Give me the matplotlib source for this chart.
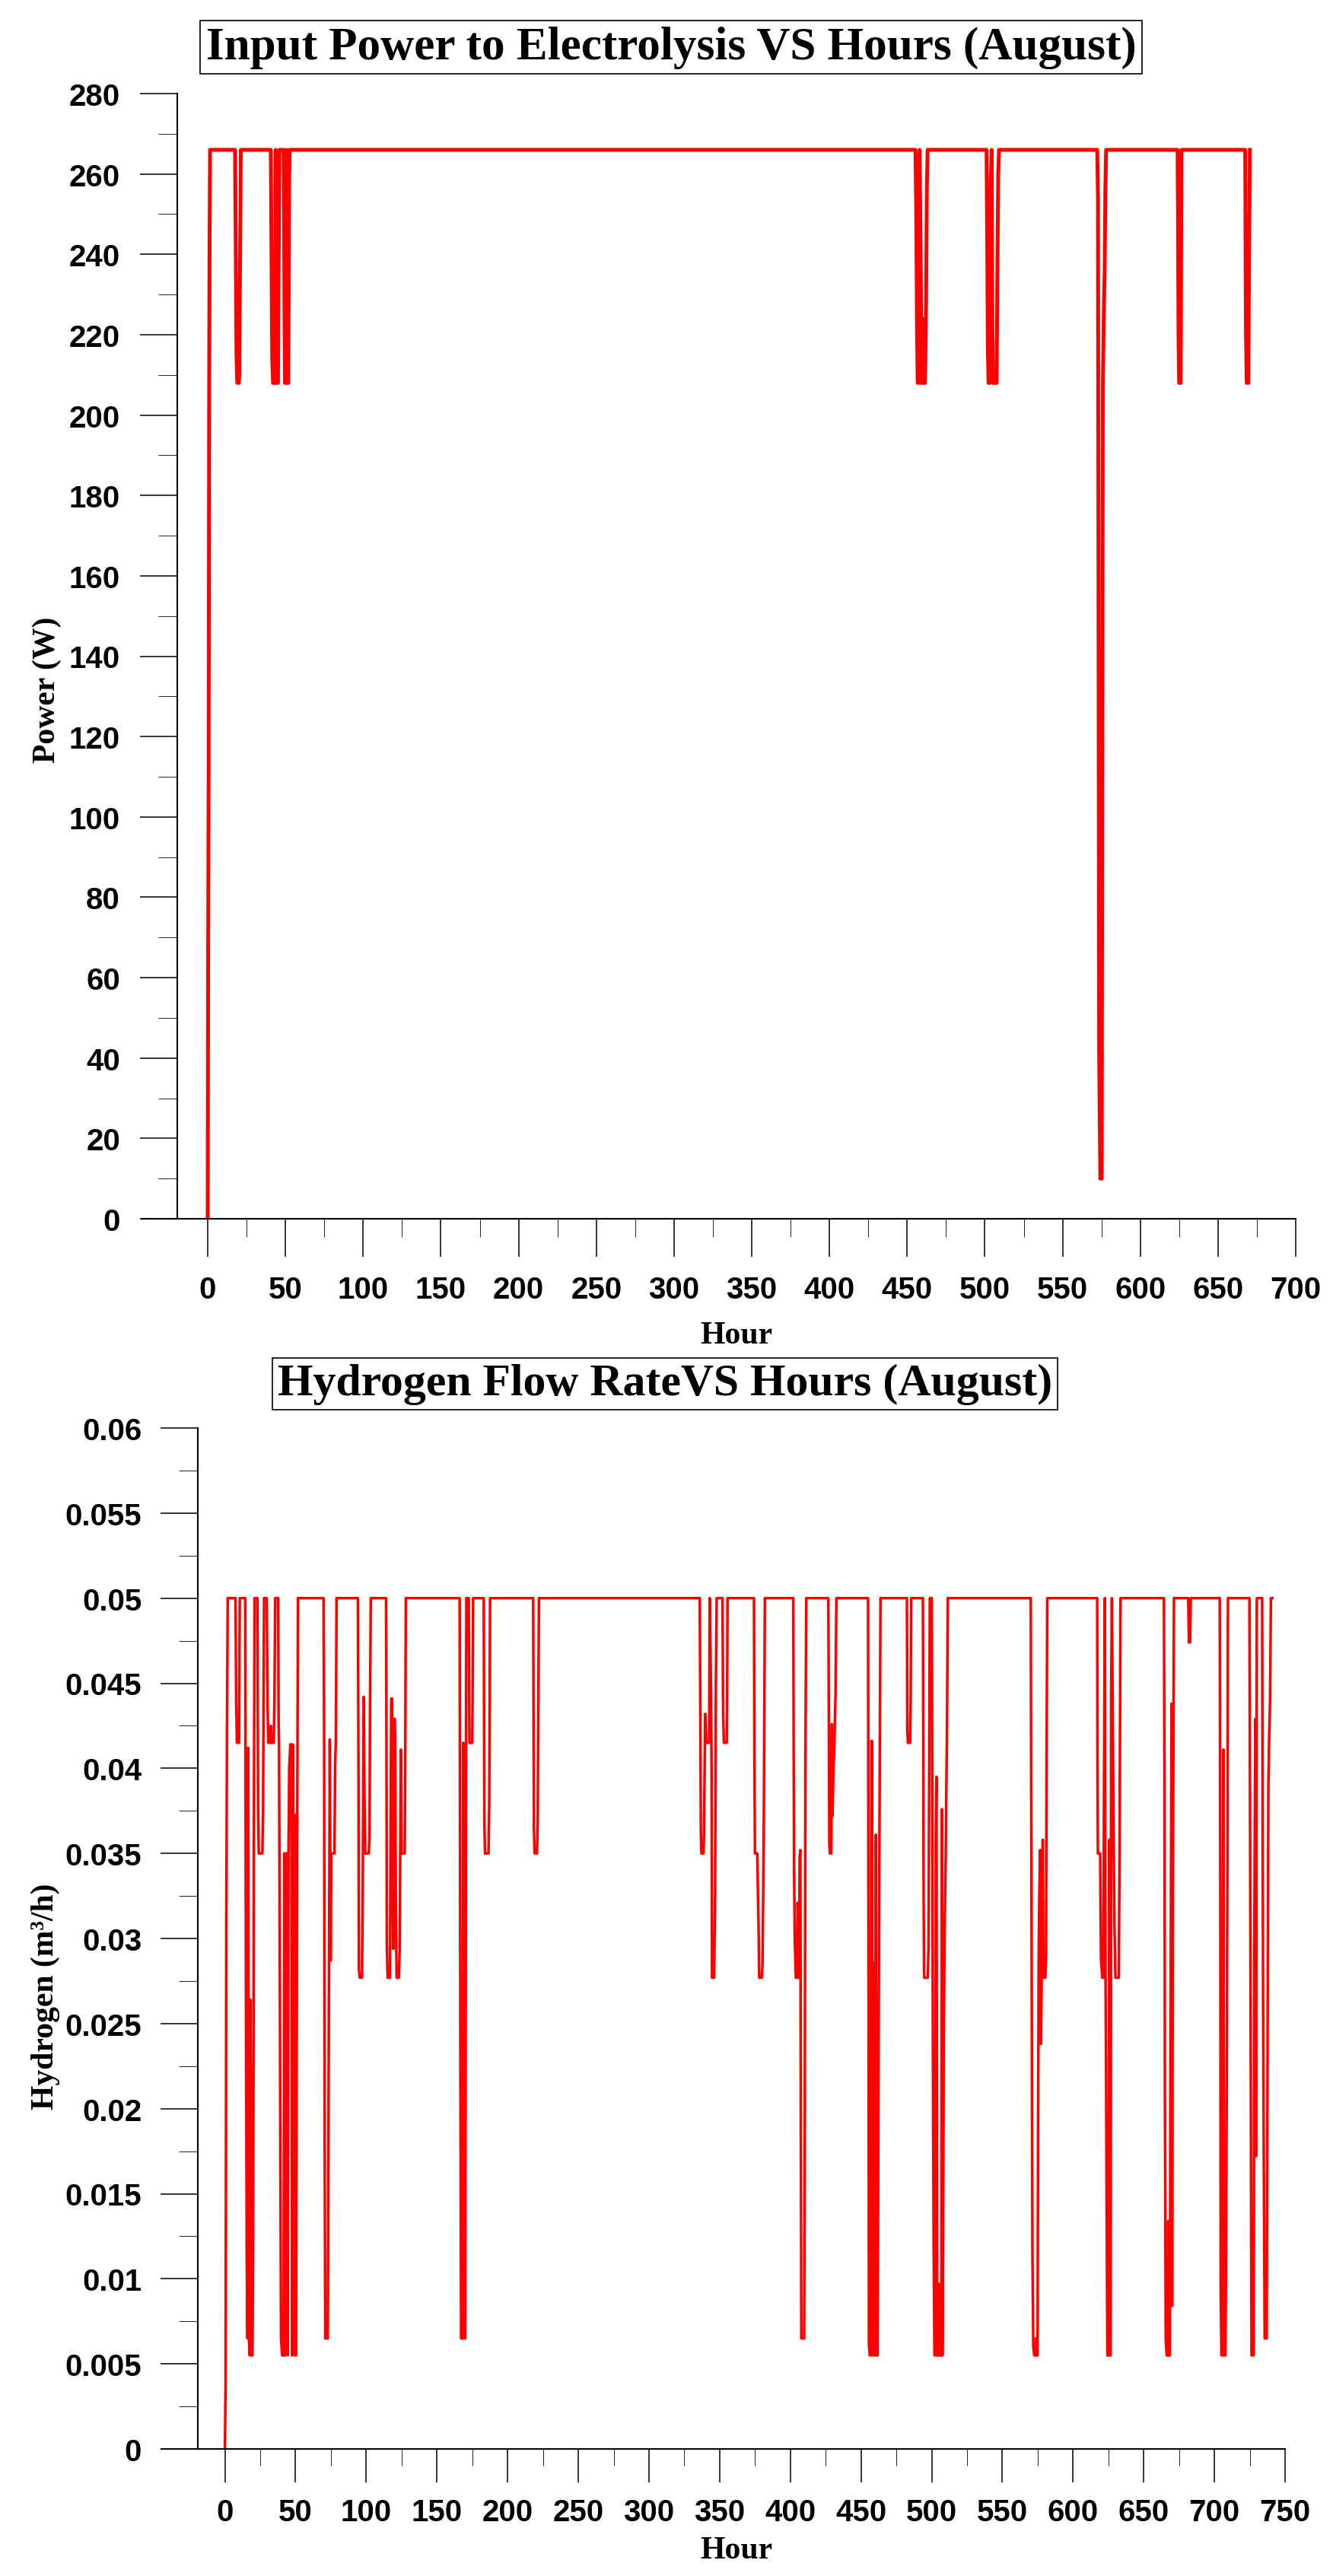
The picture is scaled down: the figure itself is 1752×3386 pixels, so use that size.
import matplotlib
matplotlib.use('Agg')
import matplotlib.pyplot as plt
from matplotlib.ticker import MultipleLocator, FixedLocator, FuncFormatter

# 输入功率数据（小时, W）
power_hours = [0, 0.3, 0.6, 0.9, 1.2, 1.5,
               17.6, 18, 18.5, 19, 20, 20.3, 20.8, 21.3,
               40.6, 41, 41.5, 42, 43, 43.3, 43.7, 44.1, 45.2, 45.6, 46.1,
               48.8, 49.1, 49.4, 49.7, 50.3, 50.6, 51, 51.8, 52.1, 52.4, 52.7,
               455.4, 455.9, 456.4, 456.8, 457.6, 458, 458.4, 458.8, 459.2, 459.8, 460.3, 461.5, 462.2, 462.7, 463.2,
               501.1, 501.5, 501.9, 502.4, 503.2, 503.6, 504.4, 504.8, 505.3, 507.6, 508, 508.6, 509.1,
               572.3, 572.8, 573.5, 574.3, 575.2, 575.9, 576.6, 577.1, 577.5, 578,
               624, 624.3, 624.6, 625, 626, 626.5,
               667.5, 668, 668.5, 669.5, 670, 670.5]
power_values = [0, 70, 113, 202, 243, 266,
                266, 244, 215, 208, 208, 210, 238, 266,
                266, 242, 214, 208, 208, 220, 266, 208, 208, 236, 266,
                266, 251, 223, 208, 208, 266, 208, 208, 231, 259, 266,
                266, 248, 220, 208, 208, 266, 252, 234, 208, 224, 208, 208, 229, 257, 266,
                266, 245, 217, 208, 208, 255, 266, 222, 208, 208, 232, 260, 266,
                266, 254, 43.6, 10, 10, 207, 227, 236, 255, 266,
                266, 247, 220, 208, 208, 266,
                266, 220, 208, 208, 240, 266]

# 氢气流量数据（小时, m3/h）
h2_hours = [0, 0.5, 1.0, 1.5, 2,
            7.5, 8, 8.5, 10, 10.5,
            14.4, 14.7, 15, 15.5, 16, 16.5, 17, 17.5, 18, 18.5, 19, 19.5, 20, 20.5, 21,
            23, 23.5, 24, 26.5, 27, 27.7,
            29.6, 30.2, 30.7, 32, 32.5, 33, 34.5, 35, 35.6,
            37.7, 38, 38.3, 39, 39.7, 40.5, 41.5, 42, 42.5, 43, 43.5, 44, 44.5, 45, 45.5,
            46.3, 47, 47.5, 48, 48.3, 48.7, 49.1, 49.5, 50.3, 50.8, 51.2, 51.7,
            69.8, 70.2, 70.6, 71, 72.8, 73.2, 73.7, 74.2, 74.8, 75.3, 77.5, 78, 78.5, 79,
            94.1, 94.5, 94.8, 95.4, 97, 97.5, 98.2, 98.7, 99.3, 101.8, 102.3, 102.7, 103.2,
            114, 114.3, 114.6, 115.1, 116.8, 117.2, 117.7, 118.2, 118.6, 119.1, 119.5, 120.2,
            120.5, 120.9, 121.5, 123.1, 123.6, 124.5, 125, 127.2, 127.6, 128,
            166.1, 166.6, 167.1, 168.1, 168.6, 169.1, 170, 170.4, 170.8,
            172.5, 173, 175, 175.6,
            183.1, 183.6, 184, 186.5, 187, 187.6,
            218.1, 218.6, 219.1, 220.8, 221.3, 221.8, 222.2,
            335.9, 336.3, 336.7, 337.1, 338.6, 338.9, 339.3, 339.8, 340.7, 342.6, 343,
            343.9, 344.3, 344.6, 346.1, 346.8, 347.3, 347.9,
            352, 352.5, 353, 355, 355.3, 355.6,
            374.3, 374.6, 375, 376.6, 377.5, 378, 379.8, 380.3, 380.8, 381.3, 382,
            402.1, 402.4, 402.7, 403.2, 403.9, 404.8, 405.2, 405.6, 406.2, 406.6, 407.1, 407.4,
            407.8, 409.8, 410.2, 410.7, 411.3,
            426.9, 427.2, 427.6, 428, 429, 429.4, 429.8, 430.5, 431.2, 432, 432.6,
            455, 455.3, 455.6, 456.2, 457, 457.4, 457.8, 458.2, 458.7, 459.5, 460, 460.5, 461,
            461.7, 462.2, 462.7, 463.3, 463.8,
            482.5, 482.8, 483.2, 484.7, 485.1, 485.5,
            493.8, 494, 494.3, 494.7, 497.2, 497.8, 498.3, 498.7, 500.1, 500.4, 500.7, 501.4,
            502, 502.6, 502.9, 503.4, 503.9, 504.7, 505, 505.6, 506.8, 507.2, 507.6, 508.1,
            508.6, 509.2, 509.9, 510.3, 510.8, 511.4,
            570.1, 570.4, 570.8, 571.3, 571.9, 572.6, 573.5, 573.9, 574.3, 574.9, 575.3, 575.7,
            576.2, 576.8, 577.3, 578, 578.6, 579.1, 580.4, 580.9, 581.3, 581.8,
            617.1, 617.3, 617.6, 619.2, 619.8, 620.7, 621.5, 621.9, 622.5, 623, 623.4, 624.3,
            625.2, 625.7, 626.1, 626.6, 627, 627.5, 628.2, 628.8, 629.3, 630, 632.4, 632.9, 633.6,
            664.3, 664.7, 665, 665.6, 666.3, 667, 667.4, 667.8, 668.5, 668.9, 669.3, 669.7,
            670.1, 670.6, 671.4,
            681.5, 682, 682.8, 683.3,
            703.8, 704.2, 704.5, 705, 705.7, 706.1, 706.4, 706.8, 707.8, 708.2, 708.8, 709.2, 709.6,
            724.8, 725.1, 725.5, 725.9, 726.3, 727.8, 728.2, 728.6, 729, 729.4, 730,
            733.8, 734.1, 734.5, 735.1, 735.6, 737, 737.5, 738.2, 738.7, 739.4, 740, 741]
h2_values = [0, 0.0037, 0.031, 0.0424, 0.05,
             0.05, 0.044, 0.0415, 0.0415, 0.05,
             0.05, 0.0345, 0.0228, 0.0112, 0.0065, 0.0412, 0.0065, 0.0055, 0.0264, 0.018, 0.0055, 0.0055, 0.0125, 0.0364, 0.05,
             0.05, 0.0372, 0.035, 0.035, 0.0375, 0.05,
             0.05, 0.0435, 0.0415, 0.0415, 0.0425, 0.0415, 0.0415, 0.0435, 0.05,
             0.05, 0.0426, 0.0415, 0.0245, 0.0065, 0.0055, 0.0055, 0.035, 0.0055, 0.035, 0.0117, 0.035, 0.0055, 0.035, 0.040,
             0.0414, 0.0414, 0.0055, 0.0414, 0.0255, 0.0134, 0.0373, 0.0055, 0.0055, 0.0238, 0.0373, 0.05,
             0.05, 0.0417, 0.018, 0.0065, 0.0065, 0.0174, 0.0287, 0.0417, 0.0287, 0.035, 0.035, 0.0402, 0.0417, 0.05,
             0.05, 0.040, 0.0282, 0.0277, 0.0277, 0.0324, 0.0442, 0.0387, 0.035, 0.035, 0.036, 0.0438, 0.05,
             0.05, 0.0415, 0.0296, 0.0277, 0.0277, 0.0365, 0.0441, 0.0441, 0.0333, 0.0294, 0.0429, 0.0429,
             0.0412, 0.032, 0.0277, 0.0277, 0.0293, 0.0411, 0.035, 0.035, 0.0407, 0.05,
             0.05, 0.0222, 0.0065, 0.0065, 0.0415, 0.0065, 0.0065, 0.0278, 0.05,
             0.05, 0.0415, 0.0415, 0.05,
             0.05, 0.0367, 0.035, 0.035, 0.0379, 0.05,
             0.05, 0.0365, 0.035, 0.035, 0.037, 0.0451, 0.05,
             0.05, 0.0443, 0.0364, 0.035, 0.035, 0.036, 0.0394, 0.0432, 0.0415, 0.0415, 0.05,
             0.0445, 0.0399, 0.0277, 0.0277, 0.0326, 0.0445, 0.05,
             0.05, 0.0432, 0.0415, 0.0415, 0.0443, 0.05,
             0.05, 0.0406, 0.035, 0.035, 0.0309, 0.0277, 0.0277, 0.0284, 0.0324, 0.0376, 0.05,
             0.05, 0.0403, 0.0337, 0.0298, 0.0277, 0.0277, 0.0321, 0.0308, 0.0277, 0.0348, 0.0352, 0.021,
             0.0065, 0.0065, 0.0175, 0.0409, 0.05,
             0.05, 0.0435, 0.0356, 0.035, 0.035, 0.0426, 0.0372, 0.0398, 0.0415, 0.0444, 0.05,
             0.05, 0.0301, 0.0062, 0.0055, 0.0055, 0.0416, 0.0416, 0.0058, 0.0055, 0.0286, 0.0055, 0.0361, 0.0055,
             0.0055, 0.0172, 0.0293, 0.0411, 0.05,
             0.05, 0.0422, 0.0415, 0.0415, 0.0436, 0.05,
             0.05, 0.0445, 0.0327, 0.0277, 0.0277, 0.0295, 0.0414, 0.05, 0.05, 0.0395, 0.028, 0.0121,
             0.0055, 0.0055, 0.0361, 0.0395, 0.0055, 0.0055, 0.0097, 0.0055, 0.0055, 0.0376, 0.0055, 0.0126,
             0.0247, 0.0307, 0.0347, 0.0382, 0.0417, 0.05,
             0.05, 0.0387, 0.0267, 0.0114, 0.006, 0.0055, 0.0055, 0.0065, 0.0055, 0.0055, 0.0189, 0.0288,
             0.0328, 0.0352, 0.0238, 0.029, 0.0358, 0.0277, 0.0277, 0.029, 0.0409, 0.05,
             0.05, 0.0406, 0.035, 0.035, 0.0288, 0.0277, 0.0277, 0.0383, 0.05, 0.0277, 0.0219, 0.0055,
             0.0055, 0.0358, 0.0055, 0.0055, 0.0441, 0.05, 0.0417, 0.035, 0.0309, 0.0277, 0.0277, 0.0349, 0.05,
             0.05, 0.040, 0.0212, 0.0064, 0.0055, 0.0055, 0.0134, 0.0055, 0.0055, 0.0218, 0.0321, 0.0438,
             0.0084, 0.0317, 0.05,
             0.05, 0.0474, 0.0474, 0.05,
             0.05, 0.0334, 0.0095, 0.0055, 0.0055, 0.0295, 0.0411, 0.0055, 0.0055, 0.0105, 0.0225, 0.0343, 0.05,
             0.05, 0.0413, 0.0293, 0.0173, 0.0055, 0.0055, 0.0283, 0.0364, 0.0429, 0.0172, 0.05,
             0.05, 0.0377, 0.0259, 0.0145, 0.0065, 0.0065, 0.0203, 0.039, 0.0415, 0.0441, 0.05, 0.05]

plt.rcParams['font.family'] = ['Liberation Sans', 'DejaVu Sans']
plt.rcParams['font.weight'] = 'bold'
plt.rcParams['font.size'] = 29

W, H = 1752, 3387
fig = plt.figure(figsize=(W / 100, H / 100), dpi=100)

title_font = dict(family='Liberation Serif', weight='bold')
label_font = dict(family='Liberation Serif', weight='bold', size=30)


def style_axes(ax, y_left):
    ax.spines['top'].set_visible(False)
    ax.spines['right'].set_visible(False)
    ax.spines['left'].set_position(('data', y_left))
    ax.spines['left'].set_linewidth(1.5)
    ax.spines['bottom'].set_linewidth(1.5)
    ax.tick_params(direction='out', width=1.1)


# ---- 上图：输入功率 ----
ax1 = fig.add_axes([186 / W, 1 - 1603 / H, (1703 - 186) / W, (1603 - 124) / H])
ax1.plot(power_hours, power_values, color='#ff0000', lw=3.6)
ax1.set_xlim(-42.6, 700)
ax1.set_ylim(0, 280)
style_axes(ax1, -19.6)
ax1.xaxis.set_major_locator(MultipleLocator(50))
ax1.xaxis.set_minor_locator(FixedLocator(list(range(25, 700, 50))))
ax1.yaxis.set_major_locator(MultipleLocator(20))
ax1.yaxis.set_minor_locator(MultipleLocator(10))
ax1.tick_params(axis='x', which='major', length=36, pad=17)
ax1.tick_params(axis='x', which='minor', length=17)
ax1.tick_params(axis='y', which='major', length=35, pad=19)
ax1.tick_params(axis='y', which='minor', length=18)
fig.text(968 / W, 1 - 1756 / H, 'Hour', ha='center', va='center', **label_font)
fig.text(62 / W, 1 - 907 / H, 'Power (W)', ha='center', va='center', rotation=90, **label_font)
fig.text(882 / W, 1 - 63 / H, 'Input Power to Electrolysis VS Hours (August)', ha='center', va='center',
         size=44, bbox=dict(boxstyle='square,pad=0.12', fc='white', ec='black', lw=1.2), **title_font)

# ---- 下图：氢气流量 ----
ax2 = fig.add_axes([212 / W, 1 - 3220 / H, (1689 - 212) / W, (3220 - 1878) / H])
ax2.plot(h2_hours, h2_values, color='#ff0000', lw=2.5)
ax2.set_xlim(-45, 750)
ax2.set_ylim(0, 0.06)
style_axes(ax2, -19.3)
ax2.xaxis.set_major_locator(MultipleLocator(50))
ax2.xaxis.set_minor_locator(FixedLocator(list(range(25, 750, 50))))
ax2.yaxis.set_major_locator(MultipleLocator(0.005))
ax2.yaxis.set_minor_locator(MultipleLocator(0.0025))
ax2.yaxis.set_major_formatter(FuncFormatter(lambda v, p: '{:g}'.format(round(v, 4))))
ax2.tick_params(axis='x', which='major', length=32, pad=14)
ax2.tick_params(axis='x', which='minor', length=16)
ax2.tick_params(axis='y', which='major', length=35, pad=18)
ax2.tick_params(axis='y', which='minor', length=18)
fig.text(968 / W, 1 - 3353 / H, 'Hour', ha='center', va='center', **label_font)
fig.text(60 / W, 1 - 2624 / H, 'Hydrogen (m³/h)', ha='center', va='center', rotation=90, **label_font)
fig.text(874 / W, 1 - 1820 / H, 'Hydrogen Flow RateVS Hours (August)', ha='center', va='center',
         size=43, bbox=dict(boxstyle='square,pad=0.12', fc='white', ec='black', lw=1.2), **title_font)

fig.savefig('out.png', dpi=100)
